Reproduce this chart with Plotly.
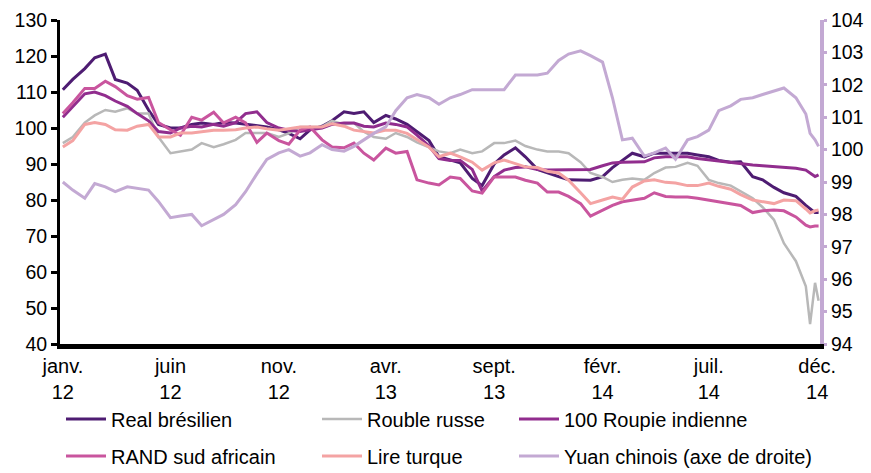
import plotly.graph_objects as go

# x grid: 1st and 15th of each month, finer at the end
dates = []
for yr in (2012, 2013, 2014):
    for mo in range(1, 13):
        if yr == 2014 and mo > 10:
            break
        dates += [f"{yr}-{mo:02d}-01", f"{yr}-{mo:02d}-15"]
dates += ["2014-11-01", "2014-11-15", "2014-11-21", "2014-11-28", "2014-12-03"]

tick_vals = ["2012-01-01", "2012-06-01", "2012-11-01", "2013-04-01",
             "2013-09-01", "2014-02-01", "2014-07-01", "2014-12-01"]
tick_text = ["janv.<br>12", "juin<br>12", "nov.<br>12", "avr.<br>13",
             "sept.<br>13", "févr.<br>14", "juil.<br>14", "déc.<br>14"]

real_bresilien = [110.6, 113.5, 116.5, 119.5, 120.5, 113.5, 112.5, 110.5, 105, 101,
                  100, 100, 101, 101.4, 101, 101.5, 101.4, 101, 100.5, 100.3,
                  99.5, 98.5, 97, 99.5, 100.5, 102, 104.5, 104, 104.5, 101.5,
                  103.5, 102.5, 101, 99, 96.5, 92, 91, 90.3, 86, 84,
                  90, 92.5, 94.5, 92, 88.5, 87.5, 86.5, 85.6, 85.5, 85.5,
                  86.5, 89, 91, 93, 92, 93, 93, 93, 93, 92.5,
                  92, 91, 90.5, 90.6, 86.5, 85.6, 83.5, 82, 81, 78.5,
                  77.5, 76.5, 76.5]

rouble_russe = [95.8, 97.5, 101.5, 103.5, 105, 104.5, 105.5, 104, 104, 97.5,
                93, 93.5, 94, 95.8, 94.7, 95.5, 96.7, 98.6, 98.6, 98.6,
                97.5, 98.5, 100.3, 100.3, 100.3, 102, 101, 101.4, 99, 97.5,
                97, 98.6, 97.5, 96, 94.7, 93.5, 93, 94, 93, 93.5,
                95.8, 95.8, 96.5, 95, 94, 93.5, 93.5, 93, 90.5, 87.5,
                86.4, 85, 85.6, 86, 85.6, 87.5, 89, 89.2, 90.3, 89.5,
                85.6, 84.7, 84, 82.5, 80.5, 78, 74.5, 68, 63, 56,
                45.5, 57, 52]

roupie_indienne = [103, 106, 109.5, 110, 109, 107.5, 106, 104, 102, 99,
                   98.6, 100, 100.5, 100.3, 101, 100.5, 101.5, 104, 104.5, 101.5,
                   100, 99.4, 99, 99.5, 100, 101, 101.4, 101.4, 100.5, 100.3,
                   101.4, 101, 100.3, 98, 95, 91.5, 91, 91, 88.5, 82.5,
                   86.5, 88.3, 89, 89.2, 88.5, 88.3, 88.3, 88.3, 88.3, 88.5,
                   89.5, 90.3, 90.5, 90.5, 90.6, 91.7, 92, 92, 92, 91.5,
                   91.1, 90.8, 90.3, 90, 89.7, 89.5, 89.3, 89.2, 88.8, 88.3,
                   87.5, 86.5, 87]

rand_sud_africain = [104, 107, 111, 111, 113, 111.5, 109, 108, 108.5, 101.5,
                     99.5, 98, 103, 102.2, 104.4, 101.4, 103, 101.4, 96, 98.6,
                     96.5, 95.5, 99.4, 100.3, 96.7, 94.7, 94.5, 95.8, 93, 91.1,
                     94.4, 93, 93.5, 85.6, 84.7, 84.2, 86.4, 86, 82.5, 81.9,
                     86.4, 86.4, 86.4, 85.5, 84.7, 82.2, 82.2, 81, 79, 75.5,
                     77.2, 78.5, 79.5, 80, 80.5, 82, 81, 80.8, 80.8, 80.5,
                     80, 79.5, 79, 78.5, 76.5, 77, 77.2, 77, 75.3, 73,
                     72.5, 72.8, 72.8]

lire_turque = [94.7, 96.5, 101, 101.5, 101, 99.5, 99.4, 100.5, 101, 97.5,
               97.5, 98.6, 98.6, 99, 99.4, 99.4, 99.5, 100, 100.3, 99.8,
               99.4, 99.8, 100.3, 100.3, 100.3, 101.2, 100.5, 99.4, 98.9, 98.6,
               99.4, 99.4, 98.5, 96.7, 94.7, 92, 93, 92, 90.5, 88.3,
               90.3, 91.1, 90, 89.2, 89, 88, 87.5, 85.5, 82, 79,
               80, 80.8, 80.2, 83.6, 85.3, 85.6, 84.9, 84.7, 84, 84,
               84.7, 83.8, 83, 81.5, 80, 79.5, 79, 80, 79.8, 77.5,
               76.4, 77, 77.2]

yuan_chinois = [99.0, 98.75, 98.5, 98.95, 98.85, 98.7, 98.85, 98.8, 98.75, 98.4,
                97.9, 97.95, 98.0, 97.65, 97.85, 98.0, 98.3, 98.7, 99.25, 99.7,
                99.9, 100.0, 99.8, 99.9, 100.15, 100.0, 99.95, 100.1, 100.3, 100.5,
                100.7, 101.2, 101.6, 101.7, 101.6, 101.4, 101.6, 101.7, 101.85, 101.85,
                101.85, 101.85, 102.3, 102.3, 102.3, 102.36, 102.75, 102.95, 103.05, 102.9,
                102.7, 101.6, 100.3, 100.35, 99.8, 99.9, 100.05, 99.7, 100.3, 100.4,
                100.6, 101.2, 101.35, 101.55, 101.6, 101.7, 101.8, 101.9, 101.6, 101.1,
                100.5, 100.3, 100.1]

FONT = "Liberation Sans, Arial, sans-serif"
LAV = "#C3A9D3"

series = [
    ("Real brésilien", real_bresilien, "#4E1C72", 3, "y", "legend"),
    ("Rouble russe", rouble_russe, "#B8B8B8", 2.5, "y", "legend2"),
    ("100 Roupie indienne", roupie_indienne, "#912D8E", 3, "y", "legend3"),
    ("RAND sud africain", rand_sud_africain, "#C9559E", 3, "y", "legend4"),
    ("Lire turque", lire_turque, "#F4A3A3", 3, "y", "legend5"),
    ("Yuan chinois (axe de droite)", yuan_chinois, LAV, 3, "y2", "legend6"),
]

fig = go.Figure()
for name, vals, col, w, ax, lg in series:
    fig.add_trace(go.Scatter(x=dates, y=vals, name=name, mode="lines",
                             line=dict(color=col, width=w), yaxis=ax, legend=lg))

# legend positions (paper coords); plot spans px 60..820 horizontally, 20..344 vertically
def lx(px):
    return (px - 60) / 760.0

def ly(py):
    return (344 - py) / 324.0

ROW1, ROW2 = 419, 456
TXT_OFF = 51
leg_pos = {
    "legend": (lx(112 - TXT_OFF), ly(ROW1)),
    "legend2": (lx(368 - TXT_OFF), ly(ROW1)),
    "legend3": (lx(565 - TXT_OFF), ly(ROW1)),
    "legend4": (lx(112 - TXT_OFF), ly(ROW2)),
    "legend5": (lx(368 - TXT_OFF), ly(ROW2)),
    "legend6": (lx(565 - TXT_OFF), ly(ROW2)),
}
legend_layout = {}
for k, (x, y) in leg_pos.items():
    legend_layout[k] = dict(x=x, y=y, xanchor="left", yanchor="middle",
                            bgcolor="rgba(0,0,0,0)", borderwidth=0, itemwidth=40,
                            font=dict(family=FONT, size=20, color="black"))

fig.update_layout(
    width=871, height=473,
    margin=dict(l=60, r=51, t=20, b=129, autoexpand=False),
    paper_bgcolor="white", plot_bgcolor="white",
    font=dict(family=FONT, size=20, color="black"),
    showlegend=True,
    xaxis=dict(type="date", range=["2011-12-28", "2014-12-05"],
               tickvals=tick_vals, ticktext=tick_text,
               showline=True, linecolor="black", linewidth=5,
               ticks="", showgrid=False, zeroline=False,
               tickfont=dict(family=FONT, size=20, color="black")),
    yaxis=dict(range=[40, 130], dtick=10, showline=True, linecolor="black",
               linewidth=3, ticks="outside", ticklen=6, tickwidth=3,
               tickcolor="black", showgrid=False, zeroline=False,
               tickfont=dict(family=FONT, size=19.5, color="black")),
    yaxis2=dict(range=[94, 104], dtick=1, overlaying="y", side="right",
                showline=True, linecolor=LAV, linewidth=4, ticks="outside",
                ticklen=3, tickwidth=3, tickcolor=LAV, showgrid=False,
                zeroline=False,
                tickfont=dict(family=FONT, size=19.5, color="black")),
    **legend_layout,
)

fig.write_html("out.html", config={"displayModeBar": False},
               post_script="document.body.style.margin='0';")
